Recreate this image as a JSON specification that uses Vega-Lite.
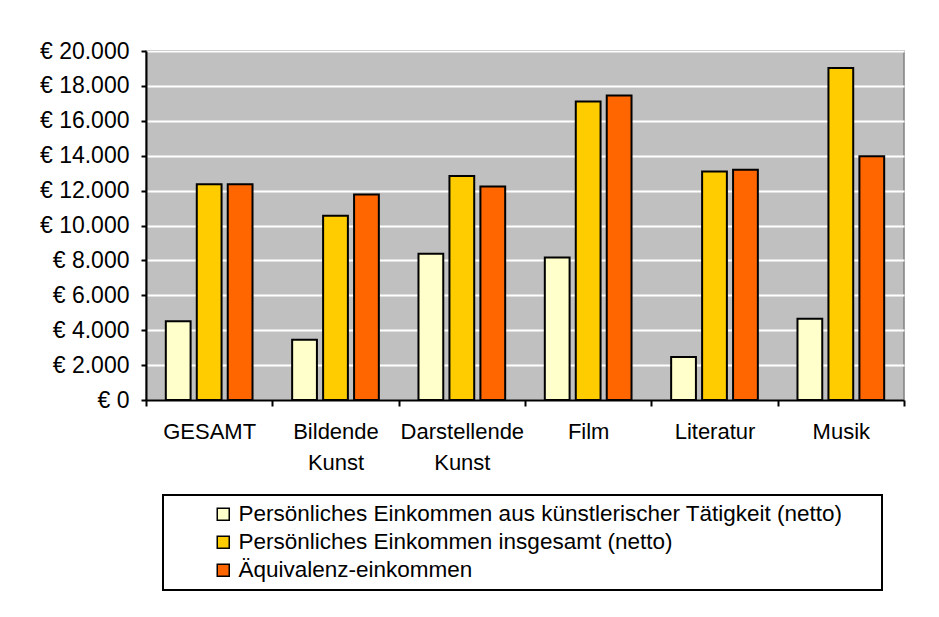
{
  "$schema": "https://vega.github.io/schema/vega-lite/v6.json",
  "width": 758,
  "height": 349,
  "autosize": {"type": "none"},
  "padding": {"left": 146, "top": 51, "right": 35, "bottom": 217},
  "background": "white",
  "data": {
    "values": [
      {"Bereich": "GESAMT", "Serie": "Persönliches Einkommen aus künstlerischer Tätigkeit (netto)", "Wert": 4510},
      {"Bereich": "GESAMT", "Serie": "Persönliches Einkommen insgesamt (netto)", "Wert": 12360},
      {"Bereich": "GESAMT", "Serie": "Äquivalenz-einkommen", "Wert": 12370},
      {"Bereich": "Bildende Kunst", "Serie": "Persönliches Einkommen aus künstlerischer Tätigkeit (netto)", "Wert": 3450},
      {"Bereich": "Bildende Kunst", "Serie": "Persönliches Einkommen insgesamt (netto)", "Wert": 10560},
      {"Bereich": "Bildende Kunst", "Serie": "Äquivalenz-einkommen", "Wert": 11780},
      {"Bereich": "Darstellende Kunst", "Serie": "Persönliches Einkommen aus künstlerischer Tätigkeit (netto)", "Wert": 8380},
      {"Bereich": "Darstellende Kunst", "Serie": "Persönliches Einkommen insgesamt (netto)", "Wert": 12840},
      {"Bereich": "Darstellende Kunst", "Serie": "Äquivalenz-einkommen", "Wert": 12240},
      {"Bereich": "Film", "Serie": "Persönliches Einkommen aus künstlerischer Tätigkeit (netto)", "Wert": 8160},
      {"Bereich": "Film", "Serie": "Persönliches Einkommen insgesamt (netto)", "Wert": 17100},
      {"Bereich": "Film", "Serie": "Äquivalenz-einkommen", "Wert": 17450},
      {"Bereich": "Literatur", "Serie": "Persönliches Einkommen aus künstlerischer Tätigkeit (netto)", "Wert": 2470},
      {"Bereich": "Literatur", "Serie": "Persönliches Einkommen insgesamt (netto)", "Wert": 13090},
      {"Bereich": "Literatur", "Serie": "Äquivalenz-einkommen", "Wert": 13200},
      {"Bereich": "Musik", "Serie": "Persönliches Einkommen aus künstlerischer Tätigkeit (netto)", "Wert": 4650},
      {"Bereich": "Musik", "Serie": "Persönliches Einkommen insgesamt (netto)", "Wert": 19030},
      {"Bereich": "Musik", "Serie": "Äquivalenz-einkommen", "Wert": 13970}
    ]
  },
  "mark": {"type": "bar", "stroke": "black", "strokeWidth": 2},
  "encoding": {
    "x": {
      "field": "Bereich",
      "type": "nominal",
      "sort": ["GESAMT", "Bildende Kunst", "Darstellende Kunst", "Film", "Literatur", "Musik"],
      "scale": {"paddingInner": 0, "paddingOuter": 0},
      "axis": {
        "title": null,
        "labelAngle": 0,
        "tickBand": "extent",
        "grid": false,
        "domainColor": "black",
        "domainWidth": 2,
        "tickColor": "black",
        "tickWidth": 2,
        "tickSize": 6,
        "labelFont": "Liberation Sans",
        "labelFontSize": 22,
        "labelColor": "black",
        "labelPadding": 15,
        "labelLineHeight": 31,
        "labelExpr": "split(datum.label, ' ')"
      }
    },
    "xOffset": {
      "field": "Serie",
      "type": "nominal",
      "sort": ["Persönliches Einkommen aus künstlerischer Tätigkeit (netto)", "Persönliches Einkommen insgesamt (netto)", "Äquivalenz-einkommen"],
      "scale": {"paddingInner": 0.2, "paddingOuter": 0.64}
    },
    "y": {
      "field": "Wert",
      "type": "quantitative",
      "scale": {"domain": [0, 20000], "nice": false},
      "axis": {
        "title": null,
        "values": [0, 2000, 4000, 6000, 8000, 10000, 12000, 14000, 16000, 18000, 20000],
        "labelExpr": "'€ ' + replace(format(datum.value, ','), regexp(',', 'g'), '.')",
        "labelFont": "Liberation Sans",
        "labelFontSize": 23,
        "labelColor": "black",
        "labelPadding": 12,
        "tickSize": 5,
        "tickColor": "black",
        "tickWidth": 2,
        "domainColor": "black",
        "domainWidth": 2,
        "gridColor": "white",
        "gridWidth": 2,
        "gridOpacity": 1
      }
    },
    "color": {
      "field": "Serie",
      "type": "nominal",
      "sort": ["Persönliches Einkommen aus künstlerischer Tätigkeit (netto)", "Persönliches Einkommen insgesamt (netto)", "Äquivalenz-einkommen"],
      "scale": {
        "domain": ["Persönliches Einkommen aus künstlerischer Tätigkeit (netto)", "Persönliches Einkommen insgesamt (netto)", "Äquivalenz-einkommen"],
        "range": ["#FFFFCC", "#FFCC00", "#FF6600"]
      },
      "legend": {
        "orient": "none",
        "legendX": 17,
        "legendY": 444,
        "title": null,
        "direction": "vertical",
        "symbolType": "square",
        "symbolSize": 144,
        "symbolStrokeColor": "black",
        "symbolStrokeWidth": 1.5,
        "symbolOffset": 41,
        "labelFont": "Liberation Sans",
        "labelFontSize": 22.5,
        "labelColor": "black",
        "labelLimit": 0,
        "labelOffset": 4,
        "rowPadding": 5,
        "padding": 8,
        "strokeColor": "black",
        "fillColor": "white",
        "labelExpr": "datum.label + '     \u200b'"
      }
    }
  },
  "config": {
    "view": {"fill": "#C0C0C0", "stroke": "#808080", "strokeWidth": 1.5},
    "font": "Liberation Sans",
    "legend": {"strokeWidth": 2}
  }
}
